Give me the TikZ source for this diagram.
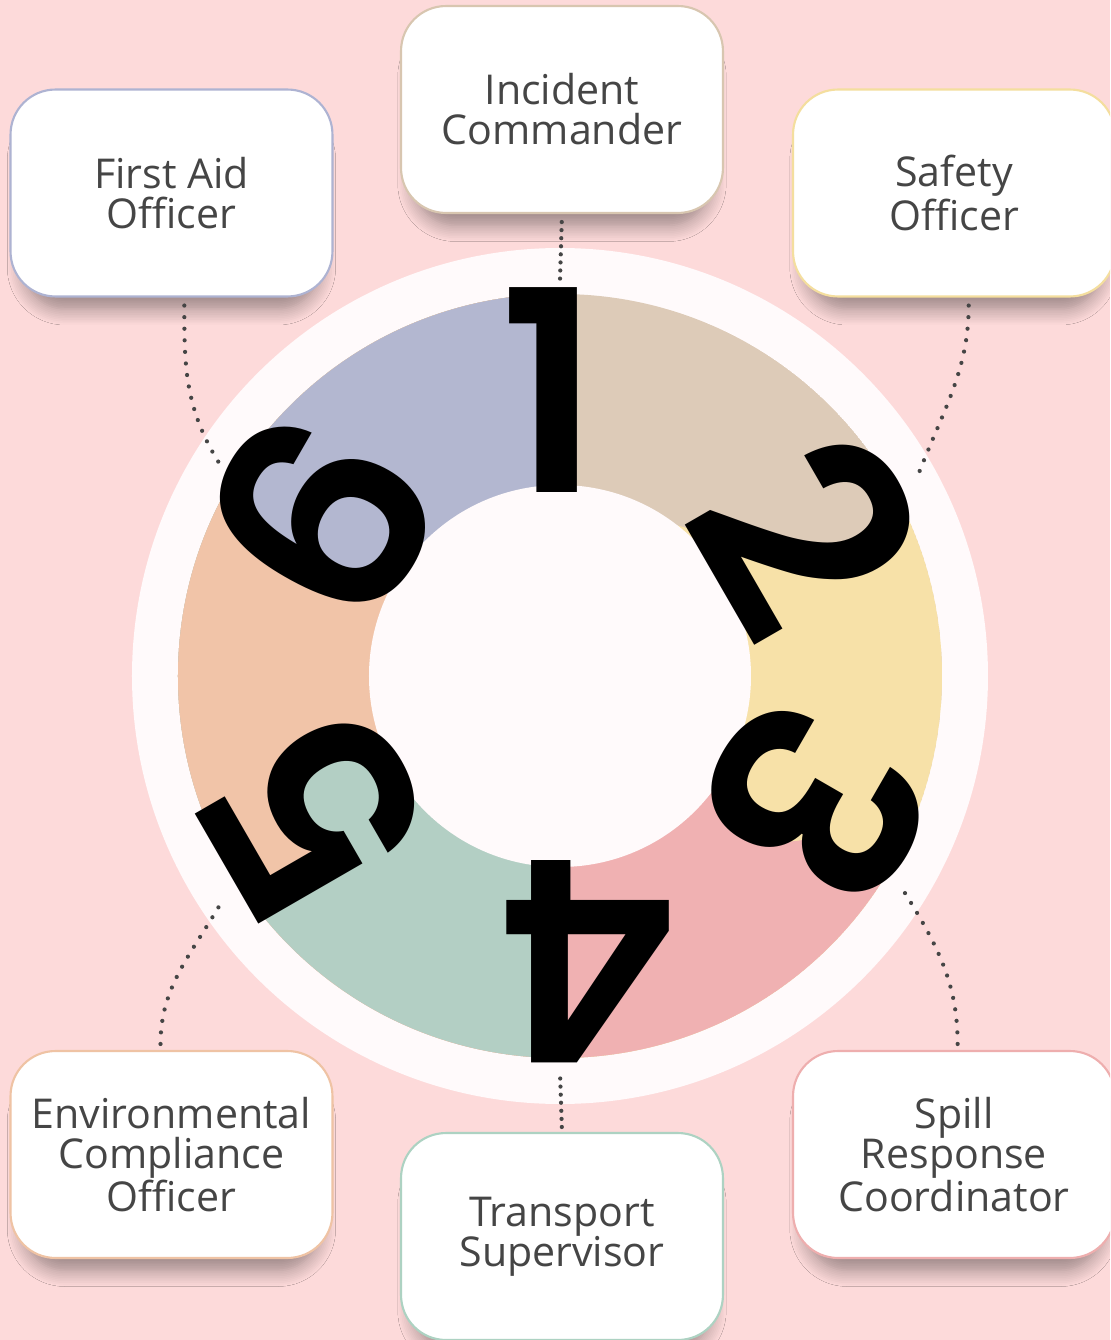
\documentclass[tikz,border=0pt]{standalone}
\usepackage{fontspec}
\setmainfont{Open Sans}
\newfontfamily\numfont{Poppins SemiBold}
\usetikzlibrary{calc,shadows.blur}

\definecolor{bgpink}{HTML}{FDDADA}
\definecolor{ringwhite}{HTML}{FFFAFB}
\definecolor{segblue}{HTML}{B3B7D0}
\definecolor{segtan}{HTML}{DDCBB8}
\definecolor{segyellow}{HTML}{F7E1A8}
\definecolor{segpink}{HTML}{F0B1B2}
\definecolor{seggreen}{HTML}{B3CFC4}
\definecolor{segpeach}{HTML}{F1C4A8}
\definecolor{txtgray}{HTML}{454545}
\definecolor{edgetan}{HTML}{D8C6B0}
\definecolor{edgeblue}{HTML}{AEB3D2}
\definecolor{edgeyellow}{HTML}{F4DE9E}
\definecolor{edgepeach}{HTML}{EFC3A4}
\definecolor{edgegreen}{HTML}{ADD2C2}
\definecolor{edgepink}{HTML}{EEAEAE}

\begin{document}
\begin{tikzpicture}[x=0.02cm,y=0.02cm,
  role/.style={shape=rectangle,rounded corners=0.9cm,fill=white,line width=1.2pt,minimum width=6.44cm,minimum height=4.14cm,align=center,text=txtgray,font=\fontsize{23.4}{22.8}\selectfont,blur shadow={shadow xshift=0pt,shadow yshift=-0.45cm,shadow scale=0.92,shadow blur radius=0.35cm,shadow blur steps=10,shadow opacity=40}},
  digit/.style={font=\numfont\fontsize{160}{160}\selectfont,inner sep=0pt},
  link/.style={draw=txtgray,line width=2.4pt,line cap=round,dash pattern=on 0pt off 6.6pt},
  linkV/.style={link,dash pattern=on 0pt off 4.6pt}]
\def\rw{428};
\def\ro{382};
\def\ri{191};
\def\rn{286};

\clip (-560,676) rectangle (550,-664);
\fill[bgpink] (-560,676) rectangle (550,-664);

% wheel: each colour runs clockwise from its boundary back round to the top
\fill[ringwhite] (0,0) circle[radius=\rw];
\begin{scope}
\clip (0,0) circle[radius=\ro];
\fill[segtan] (0,0) circle[radius=\ro];
\fill[segyellow] (0,0) -- (33,173) -- (183,133) -- (290,108) -- (325,146) -- (345,171) -- (26:600) arc[start angle=26,end angle=-270,radius=600] -- (90:100) -- cycle;
\fill[segpink] (0,0) -- (160,-71) -- (170,-101) -- (173,-131) -- (190,-159) -- (220,-167) -- (243,-164) -- (257,-194) -- (283,-204) -- (317,-191) -- (337,-154) -- (363,-164) -- (-24:600) arc[start angle=-24,end angle=-270,radius=600] -- (90:100) -- cycle;
\fill[seggreen] (0,0) -- (-8,-100) -- (-8,-600) arc[start angle=-90.76,end angle=-270,radius=600] -- (90:100) -- cycle;
\fill[segpeach] (0,0) -- (-168,-57) -- (-185,-64) -- (-232,-57) -- (-268,-84) -- (-272,-117) -- (-252,-151) -- (-225,-174) -- (-258,-197) -- (-302,-224) -- (-318,-264) -- (-140:600) arc[start angle=-140,end angle=-270,radius=600] -- (90:100) -- cycle;
\fill[segblue] (0,0) -- (-160,76) -- (-185,89) -- (-228,83) -- (-275,103) -- (-308,133) -- (-318,169) -- (-308,209) -- (-298,249) -- (-330,276) -- (-220:600) arc[start angle=-220,end angle=-270,radius=600] -- (90:100) -- cycle;
\end{scope}
\fill[ringwhite] (0,0) circle[radius=\ri];

\foreach \a/\n/\dx/\dy in {90/1/-10/0,30/2/0/0,-30/3/8/16,-90/4/30/0,-150/5/3/3,150/6/9/17}
  \node[digit,rotate=\a-90] (d\n) at ($(\a:\rn)+(\dx,\dy)$) {\n};

% role boxes
\node[role,draw=edgetan] (IC) at (2,566.5) {Incident\\Commander};
\node[role,draw=edgeblue] (FA) at (-388.5,483) {First Aid\\Officer};
\node[role,draw=edgeyellow] (SO) at (394,483) {Safety\\Officer};
\node[role,draw=edgepeach] (EC) at (-388.5,-478.5) {Environmental\\Compliance\\Officer};
\node[role,draw=edgegreen] (TS) at (2,-560.5) {Transport\\Supervisor};
\node[role,draw=edgepink] (SR) at (394,-478.5) {Spill\\Response\\Coordinator};

\coordinate (c1) at (90:396);
\coordinate (c2) at (29:408);
\coordinate (c3) at (-32:405);
\coordinate (c4) at (-90:396);
\coordinate (c5) at (213.6:405);
\coordinate (c6) at (148:402);

\draw[linkV,shorten <=0.16cm] (IC.south) -- (c1);
\draw[link,shorten <=0.16cm] (FA.-83) to[out=-90,in=122] (c6);
\draw[link,shorten <=0.16cm] (SO.-82) to[out=-90,in=69] (c2);
\draw[link,shorten <=0.12cm] (EC.96) to[out=90,in=240] (c5);
\draw[linkV,shorten <=0.1cm] (TS.north) -- (c4);
\draw[link,shorten <=0.12cm] (SR.88) to[out=90,in=302] (c3);
\end{tikzpicture}
\end{document}
